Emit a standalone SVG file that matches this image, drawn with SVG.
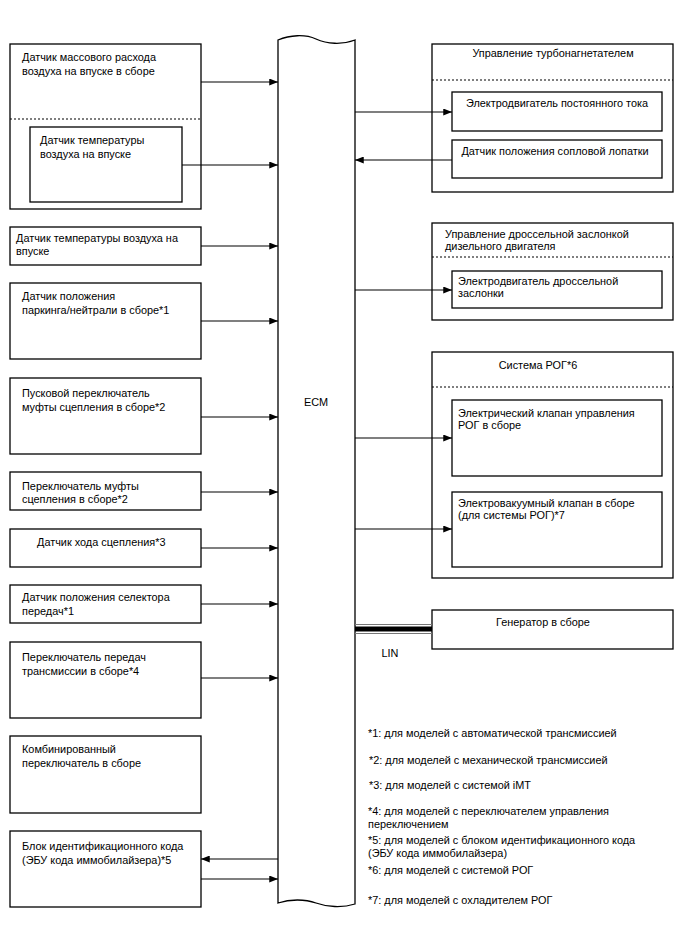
<svg xmlns="http://www.w3.org/2000/svg" width="688" height="949" viewBox="0 0 688 949">
<defs>
<marker id="ah" viewBox="0 0 10 8" refX="10" refY="4" markerWidth="9" markerHeight="7" markerUnits="userSpaceOnUse" orient="auto">
<path d="M0,0 L10,4 L0,8 Z" fill="#000"/>
</marker>
<style>
.box{fill:#fff;stroke:#000;stroke-width:1.3}
.dot{stroke:#000;stroke-width:1.2;stroke-dasharray:2,2;fill:none}
.ln{stroke:#000;stroke-width:1.2;fill:none;marker-end:url(#ah)}
text{font-family:"Liberation Sans",Arial,sans-serif;font-size:10.9px;fill:#000}
.c{text-anchor:middle}
</style>
</defs>
<rect width="688" height="949" fill="#fff"/>

<g id="ecm">
<path class="box" d="M278,40 C290,35 305,34 316,39 C327,44 342,45 355,40 L355,904 C342,908 327,907 316,903 C305,899 290,899 278,903 Z"/>
<text class="c" x="316" y="406">ECM</text>
</g>

<g id="maf">
<rect class="box" x="10" y="44" width="191" height="165"/>
<line class="dot" x1="10" y1="119" x2="201" y2="119"/>
<text x="22" y="61">Датчик массового расхода</text>
<text x="22" y="75">воздуха на впуске в сборе</text>
<rect class="box" x="30" y="127" width="152" height="75"/>
<text x="40" y="144">Датчик температуры</text>
<text x="40" y="158">воздуха на впуске</text>
</g>

<g id="iat">
<rect class="box" x="10" y="227" width="191" height="38"/>
<text x="16" y="242">Датчик температуры воздуха на</text>
<text x="16" y="255">впуске</text>
</g>

<g id="pn">
<rect class="box" x="10" y="283" width="191" height="76"/>
<text x="22" y="300">Датчик положения</text>
<text x="22" y="314">паркинга/нейтрали в сборе*1</text>
</g>

<g id="clutch-start">
<rect class="box" x="10" y="378" width="191" height="76"/>
<text x="22" y="397">Пусковой переключатель</text>
<text x="22" y="411">муфты сцепления в сборе*2</text>
</g>

<g id="clutch-sw">
<rect class="box" x="10" y="472" width="191" height="38"/>
<text x="22" y="490">Переключатель муфты</text>
<text x="22" y="503">сцепления в сборе*2</text>
</g>

<g id="clutch-stroke">
<rect class="box" x="10" y="529" width="191" height="38"/>
<text x="37" y="546">Датчик хода сцепления*3</text>
</g>

<g id="selector">
<rect class="box" x="10" y="585" width="191" height="38"/>
<text x="22" y="601">Датчик положения селектора</text>
<text x="22" y="615">передач*1</text>
</g>

<g id="shift">
<rect class="box" x="10" y="642" width="191" height="76"/>
<text x="22" y="661">Переключатель передач</text>
<text x="22" y="675">трансмиссии в сборе*4</text>
</g>

<g id="combo">
<rect class="box" x="10" y="736" width="191" height="77"/>
<text x="22" y="753">Комбинированный</text>
<text x="22" y="767">переключатель в сборе</text>
</g>

<g id="immo">
<rect class="box" x="10" y="831" width="191" height="76"/>
<text x="22" y="850">Блок идентификационного кода</text>
<text x="22" y="864">(ЭБУ кода иммобилайзера)*5</text>
</g>

<g id="turbo">
<rect class="box" x="432" y="44" width="241" height="148"/>
<text class="c" x="553" y="57">Управление турбонагнетателем</text>
<line class="dot" x1="432" y1="80" x2="673" y2="80"/>
<rect class="box" x="452" y="92" width="210" height="39"/>
<text class="c" x="557" y="107">Электродвигатель постоянного тока</text>
<rect class="box" x="452" y="140" width="210" height="38"/>
<text class="c" x="555" y="155">Датчик положения сопловой лопатки</text>
</g>

<g id="throttle">
<rect class="box" x="432" y="223" width="241" height="97"/>
<text x="445" y="238">Управление дроссельной заслонкой</text>
<text x="445" y="250">дизельного двигателя</text>
<line class="dot" x1="432" y1="257" x2="673" y2="257"/>
<rect class="box" x="452" y="271" width="210" height="37"/>
<text x="458" y="285">Электродвигатель дроссельной</text>
<text x="458" y="297">заслонки</text>
</g>

<g id="egr">
<rect class="box" x="432" y="352" width="241" height="226"/>
<text class="c" x="538" y="369">Система РОГ*6</text>
<line class="dot" x1="432" y1="387" x2="673" y2="387"/>
<rect class="box" x="452" y="400" width="210" height="76"/>
<text x="458" y="417">Электрический клапан управления</text>
<text x="458" y="429">РОГ в сборе</text>
<rect class="box" x="452" y="492" width="210" height="75"/>
<text x="458" y="507">Электровакуумный клапан в сборе</text>
<text x="458" y="519">(для системы РОГ)*7</text>
</g>

<g id="generator">
<rect class="box" x="432" y="610" width="241" height="39"/>
<text class="c" x="543" y="626">Генератор в сборе</text>
</g>

<g id="connectors">
<line class="ln" x1="201" y1="82" x2="278" y2="82"/>
<line class="ln" x1="182" y1="165" x2="278" y2="165"/>
<line class="ln" x1="201" y1="246" x2="278" y2="246"/>
<line class="ln" x1="201" y1="321" x2="278" y2="321"/>
<line class="ln" x1="201" y1="417" x2="278" y2="417"/>
<line class="ln" x1="201" y1="492" x2="278" y2="492"/>
<line class="ln" x1="201" y1="548" x2="278" y2="548"/>
<line class="ln" x1="201" y1="604" x2="278" y2="604"/>
<line class="ln" x1="201" y1="678" x2="278" y2="678"/>
<line class="ln" x1="278" y1="859" x2="201" y2="859"/>
<line class="ln" x1="201" y1="879" x2="278" y2="879"/>
<line class="ln" x1="355" y1="112" x2="452" y2="112"/>
<line class="ln" x1="452" y1="160" x2="355" y2="160"/>
<line class="ln" x1="355" y1="290" x2="452" y2="290"/>
<line class="ln" x1="355" y1="438" x2="452" y2="438"/>
<line class="ln" x1="355" y1="529" x2="452" y2="529"/>
<g id="lin">
<line x1="355" y1="624.5" x2="432" y2="624.5" stroke="#777" stroke-width="1"/>
<rect x="355" y="626.5" width="77" height="5" fill="#000"/>
<line x1="355" y1="633.5" x2="432" y2="633.5" stroke="#777" stroke-width="1"/>
<text class="c" x="390" y="657">LIN</text>
</g>
</g>

<g id="notes">
<text x="368" y="737">*1: для моделей с автоматической трансмиссией</text>
<text x="369" y="764">*2: для моделей с механической трансмиссией</text>
<text x="369" y="789">*3: для моделей с системой iMT</text>
<text x="368" y="815">*4: для моделей с переключателем управления</text>
<text x="368" y="828">переключением</text>
<text x="368" y="844">*5: для моделей с блоком идентификационного кода</text>
<text x="368" y="857">(ЭБУ кода иммобилайзера)</text>
<text x="368" y="874">*6: для моделей с системой РОГ</text>
<text x="368" y="904">*7: для моделей с охладителем РОГ</text>
</g>
</svg>
